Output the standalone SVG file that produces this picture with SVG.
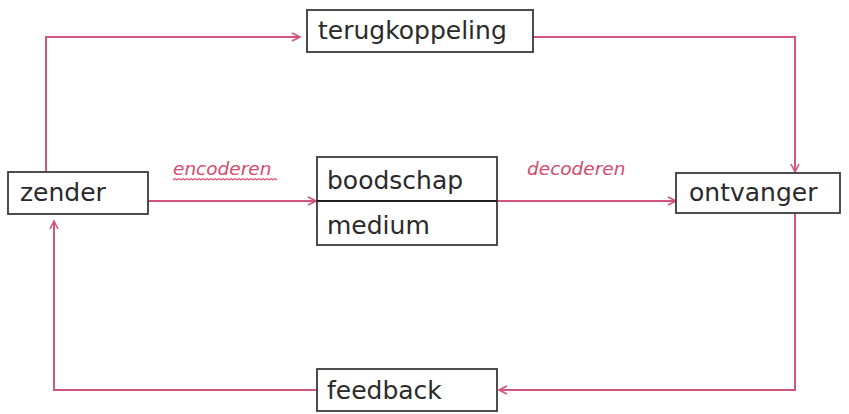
<svg xmlns="http://www.w3.org/2000/svg" width="849" height="414" viewBox="0 0 849 414">
<style>
.box{fill:#fff;stroke:#3a3a3a;stroke-width:1.8}
.t{font-family:"DejaVu Sans","Liberation Sans",sans-serif;font-size:25px;fill:#2a2a2a}
.lbl{font-family:"DejaVu Sans","Liberation Sans",sans-serif;font-size:18.5px;font-style:italic;fill:#d64a6e}
.c{fill:none;stroke:#d4557a;stroke-width:2;marker-end:url(#a)}
</style>
<defs>
<marker id="a" viewBox="0 0 10 10" refX="9" refY="5" markerWidth="10" markerHeight="10" markerUnits="userSpaceOnUse" orient="auto">
<path d="M1 1 L9 5 L1 9" fill="none" stroke="#d4557a" stroke-width="1.6"/>
</marker>
</defs>
<rect width="849" height="414" fill="#fff"/>
<g id="connectors">
<path class="c" d="M46 172 V37 H300"/>
<path class="c" d="M533 37 H795 V172"/>
<path class="c" d="M148 201 H316"/>
<path class="c" d="M497 201 H676"/>
<path class="c" d="M795 213 V390 H499"/>
<path class="c" d="M317 390 H54 V221"/>
</g>
<g id="label-encoderen">
<text class="lbl" x="173" y="175">encoderen</text>
<path d="M173 180 l2 -1.5 l2 1.5 l2 -1.5 l2 1.5 l2 -1.5 l2 1.5 l2 -1.5 l2 1.5 l2 -1.5 l2 1.5 l2 -1.5 l2 1.5 l2 -1.5 l2 1.5 l2 -1.5 l2 1.5 l2 -1.5 l2 1.5 l2 -1.5 l2 1.5 l2 -1.5 l2 1.5 l2 -1.5 l2 1.5 l2 -1.5 l2 1.5 l2 -1.5 l2 1.5 l2 -1.5 l2 1.5 l2 -1.5 l2 1.5 l2 -1.5 l2 1.5 l2 -1.5 l2 1.5 l2 -1.5 l2 1.5 l2 -1.5 l2 1.5 l2 -1.5 l2 1.5 l2 -1.5 l2 1.5 l2 -1.5 l2 1.5 l2 -1.5 l2 1.5 l2 -1.5 l2 1.5 l2 -1.5 l2 1.5" fill="none" stroke="#e05a7a" stroke-width="1.2"/>
</g>
<g id="label-decoderen">
<text class="lbl" x="527" y="175">decoderen</text>
</g>
<g id="terugkoppeling">
<rect class="box" x="307" y="10" width="226" height="42"/>
<text class="t" x="318" y="39">terugkoppeling</text>
</g>
<g id="zender">
<rect class="box" x="8" y="172" width="140" height="42"/>
<text class="t" x="20" y="201">zender</text>
</g>
<g id="boodschap-medium">
<rect class="box" x="317" y="157" width="180" height="88"/>
<line x1="317" y1="201" x2="497" y2="201" stroke="#1e1e1e" stroke-width="2"/>
<text class="t" x="327" y="189">boodschap</text>
<text class="t" x="327" y="234">medium</text>
</g>
<g id="ontvanger">
<rect class="box" x="676" y="173" width="164" height="40"/>
<text class="t" x="689" y="201">ontvanger</text>
</g>
<g id="feedback">
<rect class="box" x="317" y="369" width="180" height="42"/>
<text class="t" x="327" y="399">feedback</text>
</g>
</svg>
